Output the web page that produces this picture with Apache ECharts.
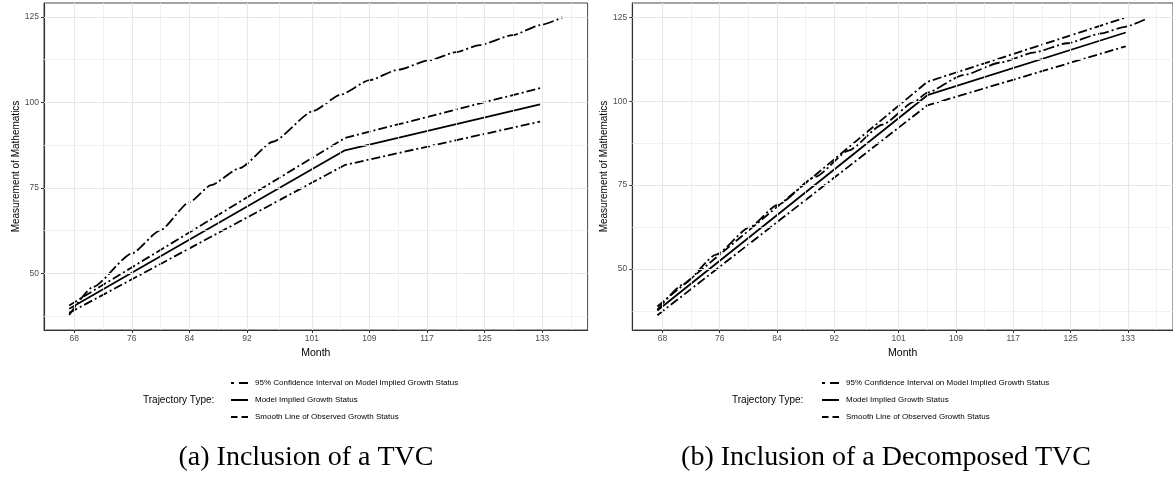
<!DOCTYPE html>
<html>
<head>
<meta charset="utf-8">
<script src="https://cdn.jsdelivr.net/npm/echarts@6/dist/echarts.min.js"></script>
<style>
html,body{margin:0;padding:0;background:#fff;}
#chart{width:1173px;height:486px;}
</style>
</head>
<body>
<div id="chart"></div>
<script>
// ---------- data ----------
const xTicks = [68, 76, 84, 92, 101, 109, 117, 125, 133];
const xMinor = [64, 72, 80, 88, 96.5, 105, 113, 121, 129, 137];
const yTicks = [50, 75, 100, 125];
const yMinor = [37.5, 62.5, 87.5, 112.5];

const seriesNames = [
  '95% Confidence Interval on Model Implied Growth Status',
  'Model Implied Growth Status',
  'Smooth Line of Observed Growth Status'
];
const legendTitle = 'Trajectory Type:';
const captions = ['(a) Inclusion of a TVC', '(b) Inclusion of a Decomposed TVC'];

// (a) Inclusion of a TVC
const modelMonthsA = [67.3, 105.6, 132.7];
const modelA   = [39.6, 86.0, 99.4];
const ciUpperA = [40.6, 89.6, 104.2];
const ciLowerA = [38.4, 81.7, 94.4];
const smoothMonthsA = [67.3, 70.6, 76.0, 79.9, 84.0, 87.0, 91.0, 95.6, 101.2, 105.0, 109.0, 113.0, 117.4, 121.0, 124.3, 128.9, 132.7, 135.8];
const smoothA       = [37.8, 46.0, 55.8, 62.5, 70.8, 75.8, 80.8, 88.5, 97.5, 102.3, 106.5, 109.6, 112.4, 114.7, 116.8, 119.7, 122.6, 124.9];

// (b) Inclusion of a Decomposed TVC
const modelMonthsB = [67.3, 105.0, 132.7];
const modelB   = [37.6, 101.8, 120.5];
const ciUpperB = [38.8, 105.8, 125.0];
const ciLowerB = [36.2, 98.8, 116.4];
const smoothMonthsB = [67.3, 70.9, 75.5, 80.2, 84.0, 89.4, 94.0, 98.7, 103.3, 105.0, 110.0, 115.3, 120.0, 124.5, 129.2, 132.6, 135.6];
const smoothB       = [37.8, 45.4, 54.3, 62.5, 69.0, 77.5, 85.3, 93.0, 100.0, 102.6, 107.8, 111.6, 114.6, 117.3, 120.2, 122.2, 124.6];

// ---------- helpers ----------
const FONT = 'Liberation Sans, Arial, Helvetica, sans-serif';
const pairs = (xs, ys) => xs.map((x, i) => [x, ys[i]]);
const CI_DASH = [9, 3, 2, 3];
const SM_DASH = [11, 3, 2, 3];

function gridSeries(idx) {
  const d = [];
  xMinor.forEach(v => d.push({xAxis: v, lineStyle: {color: '#eeeeee', width: 0.8, type: 'solid'}}));
  yMinor.forEach(v => d.push({yAxis: v, lineStyle: {color: '#eeeeee', width: 0.8, type: 'solid'}}));
  xTicks.forEach(v => d.push({xAxis: v, lineStyle: {color: '#e7e7e7', width: 1.1, type: 'solid'}}));
  yTicks.forEach(v => d.push({yAxis: v, lineStyle: {color: '#e7e7e7', width: 1.1, type: 'solid'}}));
  return {
    type: 'line', xAxisIndex: idx, yAxisIndex: idx, data: [], silent: true,
    markLine: {silent: true, symbol: ['none', 'none'], label: {show: false}, animation: false, data: d}
  };
}

function lineSeries(idx, name, data, dash, smooth) {
  return {
    type: 'line', name: name, xAxisIndex: idx, yAxisIndex: idx,
    data: data, symbol: 'none', showSymbol: false, animation: false,
    smooth: smooth ? 0.2 : false, smoothMonotone: smooth ? 'x' : undefined,
    lineStyle: {color: '#000', width: 1.8, type: dash, cap: 'butt', join: 'round'},
    itemStyle: {color: '#000'}
  };
}

function xAxisDef(idx) {
  return {
    gridIndex: idx, type: 'value', min: 63.8, max: 139.3,
    axisLine: {show: true, onZero: false, lineStyle: {color: '#333', width: 1.1}},
    axisTick: {show: true, length: 3, customValues: xTicks, lineStyle: {color: '#333', width: 1}},
    axisLabel: {customValues: xTicks, color: '#4d4d4d', fontSize: 8.5, margin: 4, fontFamily: FONT},
    splitLine: {show: false},
    name: 'Month', nameLocation: 'middle', nameGap: 16,
    nameTextStyle: {fontSize: 10.5, color: '#000', fontFamily: FONT}
  };
}
function yAxisDef(idx, min, max) {
  return {
    gridIndex: idx, type: 'value', min: min, max: max,
    axisLine: {show: true, onZero: false, lineStyle: {color: '#333', width: 1.1}},
    axisTick: {show: true, length: 3, customValues: yTicks, lineStyle: {color: '#333', width: 1}},
    axisLabel: {customValues: yTicks, color: '#4d4d4d', fontSize: 8.5, margin: 5, fontFamily: FONT},
    splitLine: {show: false},
    name: 'Measurement of Mathematics', nameLocation: 'middle', nameGap: 23,
    nameTextStyle: {fontSize: 10, color: '#000', fontFamily: FONT}
  };
}

// manual legend (ggplot style keys)
function legendGraphics(titleX, keyX) {
  const rows = [383, 400, 417];
  const g = [];
  const seg = (x1, x2, y) => ({type: 'line', silent: true, shape: {x1: x1, y1: y, x2: x2, y2: y}, style: {stroke: '#000', lineWidth: 2}});
  // CI: dot + dash
  g.push(seg(keyX, keyX + 3, rows[0]));
  g.push(seg(keyX + 8, keyX + 17, rows[0]));
  // model: solid
  g.push(seg(keyX, keyX + 17, rows[1]));
  // smooth: two dashes
  g.push(seg(keyX, keyX + 6.5, rows[2]));
  g.push(seg(keyX + 10.5, keyX + 17, rows[2]));
  rows.forEach((y, i) => g.push({
    type: 'text', silent: true, x: keyX + 24, y: y,
    style: {text: seriesNames[i], fontSize: 8, fill: '#000', fontFamily: FONT, align: 'left', verticalAlign: 'middle'}
  }));
  g.push({type: 'text', silent: true, x: titleX, y: rows[1],
    style: {text: legendTitle, fontSize: 10, fill: '#000', fontFamily: FONT, align: 'left', verticalAlign: 'middle'}});
  return g;
}

const option = {
  backgroundColor: '#fff',
  animation: false,
  grid: [
    {left: 44, top: 3, width: 543.6, height: 327, show: true, borderColor: '#333', borderWidth: 0.9, backgroundColor: '#fff'},
    {left: 632.3, top: 3, width: 544, height: 327, show: true, borderColor: '#333', borderWidth: 0.9, backgroundColor: '#fff'}
  ],
  xAxis: [xAxisDef(0), xAxisDef(1)],
  yAxis: [yAxisDef(0, 33.4, 129.1), yAxisDef(1, 31.8, 129.3)],
  graphic: [].concat(
    legendGraphics(143, 231),
    legendGraphics(732, 822),
    [
      {type: 'text', silent: true, x: 306, y: 458, style: {text: captions[0], fontSize: 28, fill: '#000', fontFamily: 'Liberation Serif, serif', align: 'center', verticalAlign: 'middle'}},
      {type: 'text', silent: true, x: 886, y: 458, style: {text: captions[1], fontSize: 28, fill: '#000', fontFamily: 'Liberation Serif, serif', align: 'center', verticalAlign: 'middle'}}
    ]
  ),
  series: [
    gridSeries(0),
    lineSeries(0, seriesNames[0], pairs(modelMonthsA, ciUpperA), CI_DASH, false),
    lineSeries(0, seriesNames[0], pairs(modelMonthsA, ciLowerA), CI_DASH, false),
    lineSeries(0, seriesNames[1], pairs(modelMonthsA, modelA), 'solid', false),
    lineSeries(0, seriesNames[2], pairs(smoothMonthsA, smoothA), SM_DASH, true),
    gridSeries(1),
    lineSeries(1, seriesNames[0], pairs(modelMonthsB, ciUpperB), CI_DASH, false),
    lineSeries(1, seriesNames[0], pairs(modelMonthsB, ciLowerB), CI_DASH, false),
    lineSeries(1, seriesNames[1], pairs(modelMonthsB, modelB), 'solid', false),
    lineSeries(1, seriesNames[2], pairs(smoothMonthsB, smoothB), SM_DASH, true)
  ]
};

const chart = echarts.init(document.getElementById('chart'), null, {renderer: 'canvas'});
chart.setOption(option);
</script>
</body>
</html>
